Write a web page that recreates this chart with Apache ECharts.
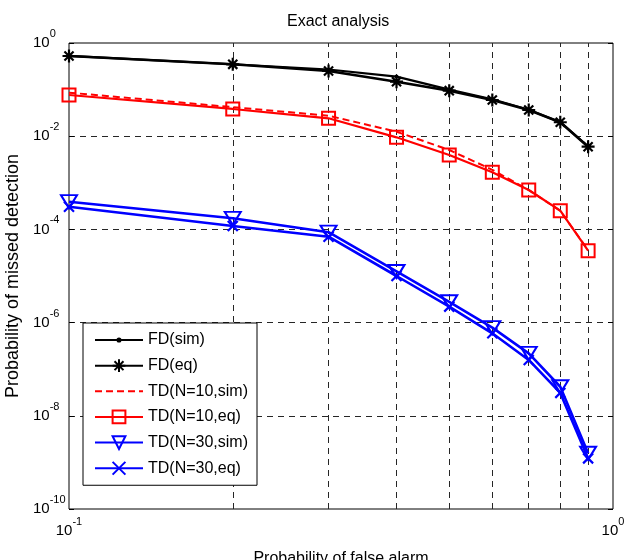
<!DOCTYPE html>
<html><head><meta charset="utf-8">
<script src="https://cdn.jsdelivr.net/npm/echarts@6/dist/echarts.min.js"></script>
<style>html,body{margin:0;padding:0;background:#fff}#c{width:628px;height:560px}</style>
</head><body><div id="c"></div>
<script>
// ---- data ----
const pfa = [0.1, 0.2, 0.3, 0.4, 0.5, 0.6, 0.7, 0.8, 0.9];
const fdSim = [0.53, 0.35, 0.27, 0.19, 0.10, 0.062, 0.037, 0.020, 0.0060];
const fdEq = [0.526, 0.349, 0.251, 0.148, 0.0947, 0.0598, 0.0365, 0.0199, 0.00595];
const td10Sim = [0.086, 0.042, 0.0275, 0.0125, 0.00506, 0.0019, 0.00070, 0.00025, 3.6e-5];
const td10Eq = [0.0766, 0.0384, 0.0242, 0.00946, 0.00395, 0.00168, 0.00070, 0.000252, 3.5e-5];
const td30Sim = [3.93e-4, 1.73e-4, 8.7e-5, 1.25e-5, 2.8e-6, 7.8e-7, 2.19e-7, 4.2e-8, 1.57e-9];
const td30Eq = [3.07e-4, 1.18e-4, 6.98e-5, 1.0e-5, 2.2e-6, 5.9e-7, 1.58e-7, 3.1e-8, 1.22e-9];
const seriesNames = ['FD(sim)', 'FD(eq)', 'TD(N=10,sim)', 'TD(N=10,eq)', 'TD(N=30,sim)', 'TD(N=30,eq)'];
const xGridValues = [0.2, 0.3, 0.4, 0.5, 0.6, 0.7, 0.8, 0.9];
const xMin = 0.1, xMax = 1, yMin = 1e-10, yMax = 1;
const titleText = 'Exact analysis';
const xName = 'Probability of false alarm';
const yName = 'Probability of missed detection';

// ---- styling ----
const F = '"Liberation Sans", Arial, Helvetica, sans-serif';
const GRIDC = '#262626';
const DOT = 'path://M0,0M10,10M3,5A2,2,0,1,1,7,5A2,2,0,1,1,3,5Z';
const NOSYM = 'path://M0,0M10,10';
const STAR = 'path://M5,0L5,10M0,5L10,5M1.5,1.5L8.5,8.5M8.5,1.5L1.5,8.5';
const TRI = 'path://M0,0L10,0L5,8.66Z';
const CROSS = 'path://M0,0L10,10M10,0L0,10';

function pts(arr) { return pfa.map((x, i) => [x, arr[i]]); }
function sci(v) { const e = Math.round(Math.log10(v)); return '{b|10}{s|' + e + '}'; }
const rich = {
  b: { fontSize: 15, fontFamily: F, color: '#000', lineHeight: 16 },
  s: { fontSize: 11, fontFamily: F, color: '#000', lineHeight: 12, padding: [0, 0, 18, 0] }
};

const chart = echarts.init(document.getElementById('c'), null, { renderer: 'canvas' });
const option = {
  animation: false,
  backgroundColor: '#fff',
  title: { text: titleText, left: 287, top: 14, padding: 0,
    textStyle: { fontFamily: F, fontSize: 16, fontWeight: 'normal', color: '#000' } },
  grid: { left: 69, top: 43, width: 544, height: 466, containLabel: false, outerBoundsMode: 'none',
    show: true, borderColor: '#000', borderWidth: 1, backgroundColor: '#fff' },
  legend: {
    data: seriesNames, orient: 'vertical', left: 83, top: 323,
    padding: [9, 9, 9, 11], itemWidth: 48, itemHeight: 16, itemGap: 9.65,
    backgroundColor: '#fff', borderColor: '#000', borderWidth: 1, borderRadius: 0,
    textStyle: { fontFamily: F, fontSize: 16, color: '#000', lineHeight: 16 },
    selectedMode: false
  },
  xAxis: {
    type: 'log', logBase: 10, min: xMin, max: xMax,
    name: xName, nameLocation: 'middle', nameGap: 34,
    nameTextStyle: { fontFamily: F, fontSize: 16, color: '#000' },
    axisLine: { show: false }, axisTick: { show: false },
    axisLabel: { formatter: sci, rich: rich, margin: 14, showMinLabel: true, showMaxLabel: true },
    splitLine: { show: false }
  },
  yAxis: [{
    type: 'log', logBase: 10, min: yMin, max: yMax, interval: 2,
    name: yName, nameLocation: 'middle', nameGap: 46,
    nameTextStyle: { fontFamily: F, fontSize: 18, color: '#000' },
    axisLine: { show: false },
    axisTick: { show: true, inside: true, length: 5, lineStyle: { color: '#000', width: 1 } },
    axisLabel: { formatter: sci, rich: rich, align: 'left', margin: 36 },
    splitLine: { show: true, showMinLine: false, showMaxLine: false,
      lineStyle: { color: GRIDC, type: [6, 5], width: 1 } }
  }, {
    type: 'log', logBase: 10, min: yMin, max: yMax, interval: 2, position: 'right',
    axisLine: { show: false },
    axisTick: { show: true, inside: true, length: 5, lineStyle: { color: '#000', width: 1 } },
    axisLabel: { show: false }, splitLine: { show: false }
  }],
  series: [
    { name: seriesNames[0], type: 'line', data: pts(fdSim), z: 2,
      symbol: DOT, symbolSize: 10,
      lineStyle: { color: '#000', width: 2.2 },
      itemStyle: { color: '#000', borderWidth: 0 },
      markLine: { silent: true, z: 1, symbol: ['none', 'none'], label: { show: false },
        lineStyle: { color: GRIDC, type: [6, 5], width: 1 },
        emphasis: { disabled: true },
        data: xGridValues.map(v => ({ xAxis: v })) } },
    { name: seriesNames[1], type: 'line', data: pts(fdEq), z: 3,
      symbol: STAR, symbolSize: 13,
      lineStyle: { color: '#000', width: 2.6 },
      itemStyle: { color: 'rgba(0,0,0,0)', borderColor: '#000', borderWidth: 2.2 } },
    { name: seriesNames[2], type: 'line', data: pts(td10Sim), z: 4,
      symbol: NOSYM, showSymbol: false,
      lineStyle: { color: '#ff0000', width: 2, type: [7, 4] },
      itemStyle: { color: 'rgba(0,0,0,0)', borderWidth: 0 } },
    { name: seriesNames[3], type: 'line', data: pts(td10Eq), z: 5,
      symbol: 'rect', symbolSize: 13,
      lineStyle: { color: '#ff0000', width: 2.2 },
      itemStyle: { color: 'rgba(0,0,0,0)', borderColor: '#ff0000', borderWidth: 2 } },
    { name: seriesNames[4], type: 'line', data: pts(td30Sim), z: 6,
      symbol: TRI, symbolSize: [16, 13],
      lineStyle: { color: '#0000ff', width: 2.6 },
      itemStyle: { color: 'rgba(0,0,0,0)', borderColor: '#0000ff', borderWidth: 2 } },
    { name: seriesNames[5], type: 'line', data: pts(td30Eq), z: 7,
      symbol: CROSS, symbolSize: 10,
      lineStyle: { color: '#0000ff', width: 2.6 },
      itemStyle: { color: 'rgba(0,0,0,0)', borderColor: '#0000ff', borderWidth: 2.2 } }
  ]
};
chart.setOption(option);
</script>
</body></html>
